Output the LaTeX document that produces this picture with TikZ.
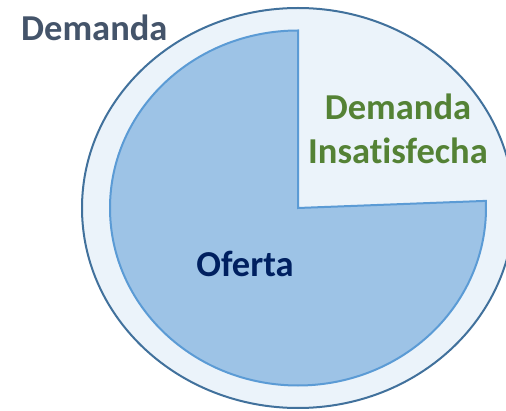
\documentclass[tikz,border=0pt]{standalone}
\usepackage{fontspec}
\setmainfont[Ligatures=NoCommon]{Carlito}
\definecolor{outerfill}{HTML}{EBF3FA}
\definecolor{outerline}{HTML}{41719C}
\definecolor{innerfill}{HTML}{9DC3E6}
\definecolor{innerline}{HTML}{5B9BD5}
\definecolor{demcol}{HTML}{44546A}
\definecolor{greencol}{HTML}{548235}
\definecolor{navycol}{HTML}{002060}
\begin{document}
\begin{tikzpicture}[x=1pt,y=1pt,
  lbl/.style={inner sep=0pt,font=\fontsize{36.5}{44}\selectfont\bfseries}]
\useasboundingbox (0,0) rectangle (506,410);
\begin{scope}
\clip (0,0) rectangle (506,410);
\draw[fill=outerfill,draw=outerline,line width=2pt] (298,202) ellipse[x radius=216,y radius=200];
\end{scope}
\coordinate (c) at (298,202);
\draw[fill=innerfill,draw=innerline,line width=2pt,line join=miter]
  (c) -- ++(0,177.5) arc[start angle=90,end angle=362.3,x radius=188,y radius=177.5] -- cycle;
\node[lbl,text=demcol,anchor=base west] (dem) at (21,369.3) {Demanda};
\node[lbl,text=greencol,anchor=base,align=center] (insat) at (398,246) {Demanda\\Insatisfecha};
\node[lbl,text=navycol,anchor=base] (of) at (245,133) {Oferta};
\end{tikzpicture}
\end{document}
